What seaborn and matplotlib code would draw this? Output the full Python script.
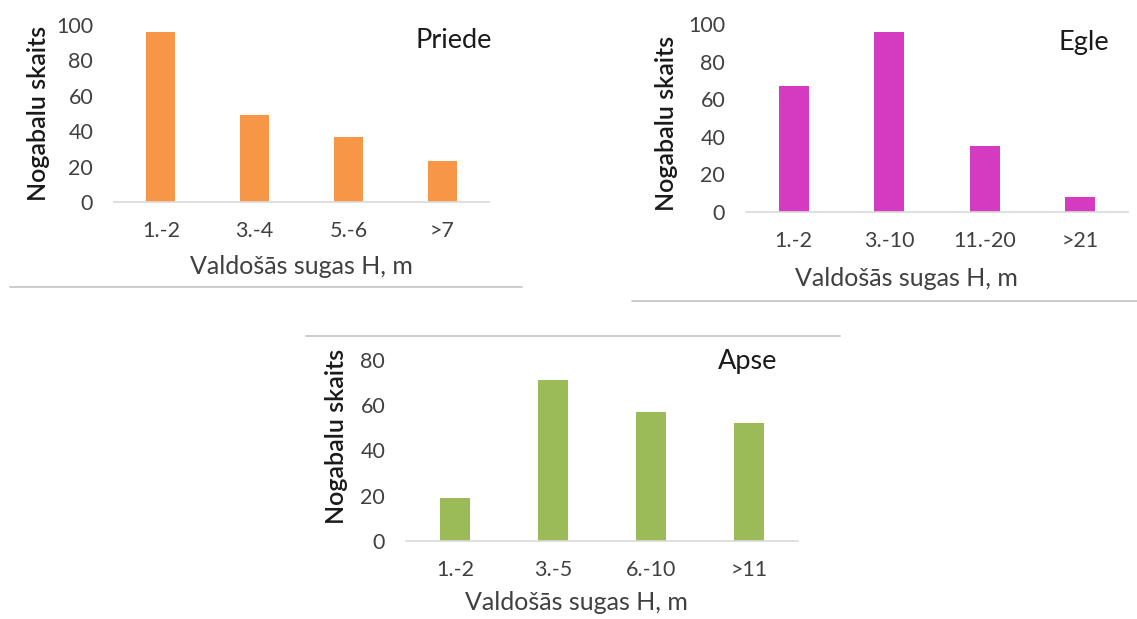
import matplotlib
matplotlib.use("Agg")
import matplotlib.pyplot as plt
from matplotlib.lines import Line2D
import seaborn as sns
import pandas as pd

# Dominant-species height classes and stand counts
priede_classes = ["1.-2", "3.-4", "5.-6", ">7"]
priede_counts = [96, 49, 37, 23]

egle_classes = ["1.-2", "3.-10", "11.-20", ">21"]
egle_counts = [67, 96, 35, 8]

apse_classes = ["1.-2", "3.-5", "6.-10", ">11"]
apse_counts = [19, 71, 57, 52]

x_title = "Valdošās sugas H, m"
y_title = "Nogabalu skaits"

sns.set_theme(style="white")
plt.rcParams["font.family"] = ["Lato", "DejaVu Sans"]

W, H = 1137, 619
fig = plt.figure(figsize=(W / 100, H / 100), dpi=100)
fig.patch.set_facecolor("white")

TXT = "#404040"


def px_axes(x0, x1, ytop, ybot):
    return fig.add_axes([x0 / W, (H - ybot) / H, (x1 - x0) / W, (ybot - ytop) / H])


def panel(ax, classes, counts, color, ymax, name, name_xy, xlab_xy, ylab_xy):
    df = pd.DataFrame({"klase": classes, "skaits": counts})
    sns.barplot(data=df, x="klase", y="skaits", color=color, width=0.31,
                saturation=1, ax=ax, edgecolor="none")
    ax.set_xlim(-0.5, len(classes) - 0.5)
    ax.set_ylim(0, ymax)
    ax.set_yticks(range(0, ymax + 1, 20))
    for s in ("top", "left", "right"):
        ax.spines[s].set_visible(False)
    ax.spines["bottom"].set_color("#D9D9D9")
    ax.spines["bottom"].set_linewidth(1.2)
    ax.tick_params(axis="both", length=0, labelsize=15.5, labelcolor=TXT)
    ax.tick_params(axis="x", pad=14)
    ax.tick_params(axis="y", pad=15)
    ax.set_xlabel(x_title, fontsize=18, color=TXT)
    ax.set_ylabel(y_title, fontsize=18, color="#1a1a1a", fontweight="semibold")
    ax.xaxis.set_label_coords(*xlab_xy)
    ax.yaxis.set_label_coords(*ylab_xy)
    ax.text(name_xy[0], name_xy[1], name, transform=ax.transAxes,
            ha="right", va="center", fontsize=19.5, color="#1a1a1a")
    ax.set_facecolor("none")


ax1 = px_axes(114, 489, 25, 202)
panel(ax1, priede_classes, priede_counts, "#F79646", 100, "Priede",
      (1.008, 0.91), (0.5, -0.30), (-0.17, 0.5))

ax2 = px_axes(746, 1128, 24, 212)
panel(ax2, egle_classes, egle_counts, "#D53BC0", 100, "Egle",
      (0.95, 0.90), (0.419, -0.29), (-0.178, 0.473))

ax3 = px_axes(406, 798, 360, 540.7)
panel(ax3, apse_classes, apse_counts, "#9BBB59", 80, "Apse",
      (0.946, 0.99), (0.434, -0.28), (-0.148, 0.576))

# thin gray frame edges of the individual chart boxes
for (xa, xb, yy) in [(10, 522, 287), (632, 1137, 301), (306, 840, 336)]:
    fig.add_artist(Line2D([xa / W, xb / W], [(H - yy) / H, (H - yy) / H],
                          transform=fig.transFigure, color="#C8C8C8", lw=1.3))

fig.savefig("out.png", dpi=100, facecolor="white")
